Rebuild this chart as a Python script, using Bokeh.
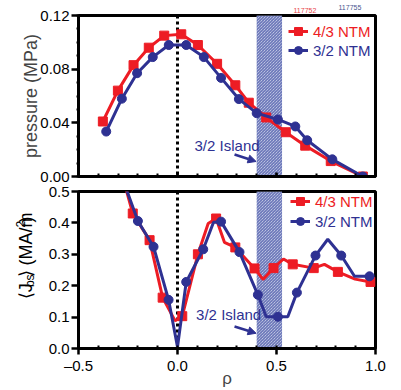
from bokeh.plotting import figure
from bokeh.models import (Range1d, SingleIntervalTicker, BoxAnnotation, Span, Label,
                          Arrow, NormalHead, Legend, LegendItem, NumeralTickFormatter,
                          CustomJSTickFormatter, Title)
from bokeh.layouts import column, row
from bokeh.embed import file_html
from bokeh.resources import INLINE

# ---- pressure profiles (MPa) ----
p43_rho = [-0.377, -0.301, -0.222, -0.145, -0.067, 0.019, 0.103, 0.200, 0.292,
           0.360, 0.448, 0.547, 0.645, 0.774, 0.936]
p43 = [0.041, 0.064, 0.083, 0.096, 0.105, 0.106, 0.098, 0.084, 0.068,
       0.055, 0.044, 0.033, 0.023, 0.0115, 0.000]

p32_rho = [-0.360, -0.281, -0.204, -0.125, -0.044, 0.044, 0.133, 0.220, 0.310,
           0.400, 0.507, 0.595, 0.655, 0.782, 0.936]
p32 = [0.0335, 0.058, 0.077, 0.089, 0.098, 0.098, 0.089, 0.0735, 0.0577,
       0.0472, 0.0425, 0.0373, 0.027, 0.0128, 0.000]

# ---- bootstrap current profiles (MA/m^2) ----
j43_rho = [-0.300, -0.226, -0.141, -0.075, -0.012, 0.024, 0.103, 0.155, 0.195,
           0.237, 0.292, 0.389, 0.432, 0.485, 0.535, 0.582, 0.688, 0.742,
           0.810, 0.897, 0.975]
j43 = [0.600, 0.430, 0.345, 0.162, 0.088, 0.103, 0.300, 0.398, 0.414,
       0.338, 0.322, 0.255, 0.220, 0.256, 0.285, 0.268, 0.256, 0.268,
       0.244, 0.221, 0.212]
j43_marks = [1, 2, 3, 5, 6, 8, 10, 11, 13, 15, 16, 18, 20]

j32_rho = [-0.300, -0.200, -0.121, -0.045, 0.000, 0.044, 0.130, 0.182, 0.220,
           0.313, 0.406, 0.448, 0.507, 0.557, 0.603, 0.697, 0.759, 0.827,
           0.894, 0.970]
j32 = [0.580, 0.406, 0.324, 0.155, 0.005, 0.212, 0.316, 0.402, 0.404,
       0.307, 0.171, 0.101, 0.101, 0.101, 0.178, 0.296, 0.348, 0.296,
       0.230, 0.230]
j32_marks = [1, 2, 3, 5, 6, 8, 9, 10, 12, 14, 15, 17, 19]

island = [0.40, 0.528]          # 3/2 island radial extent
shots = ["117752", "117755"]
series_names = ["4/3 NTM", "3/2 NTM"]

RED = "#ed1c24"
BLUE = "#2e3192"
FONT = "Liberation Sans"


def bare_figure(width, height, x_range, y_range):
    """A figure without axes or outline, used only to hold text."""
    p = figure(width=width, height=height, x_range=x_range, y_range=y_range,
               output_backend="svg", toolbar_location=None, min_border=0)
    p.axis.visible = False
    p.grid.visible = False
    p.outline_line_color = None
    p.background_fill_color = "white"
    p.border_fill_color = "white"
    return p


def base_figure(width, height, y_end, left, top, bottom):
    p = figure(width=width, height=height, x_range=Range1d(-0.5, 1.0),
               y_range=Range1d(0, y_end), output_backend="svg",
               toolbar_location=None, min_border_left=left, min_border_right=26,
               min_border_top=top, min_border_bottom=bottom)
    p.xgrid.visible = False
    p.ygrid.visible = False
    p.outline_line_color = "black"
    p.outline_line_width = 3
    p.outline_line_alpha = 1
    p.background_fill_color = "white"
    p.border_fill_color = "white"
    for ax in (p.xaxis[0], p.yaxis[0]):
        ax.axis_line_width = 3
        ax.major_tick_line_width = 2.5
        ax.minor_tick_line_width = 2
        ax.major_label_text_font = FONT
        ax.major_label_text_font_size = "15px"
        ax.major_label_text_color = "black"
    p.xaxis.ticker = SingleIntervalTicker(interval=0.5, num_minor_ticks=5)
    p.xaxis.minor_tick_in = 3
    p.xaxis.minor_tick_out = 0
    p.yaxis.major_tick_in = 0
    p.yaxis.major_tick_out = 7
    p.yaxis.major_label_standoff = 2
    # island band and magnetic axis
    p.add_layout(BoxAnnotation(left=island[0], right=island[1], fill_color="#e4e7f5",
                               fill_alpha=1, line_color=None,
                               hatch_pattern="left_diagonal_line", hatch_color="#3a4aa0",
                               hatch_scale=3, hatch_weight=0.9, level="underlay"))
    p.add_layout(Span(location=0, dimension="height", line_color="black",
                      line_width=3, line_dash="3 3", level="underlay"))
    return p


def add_legend(p, items, vx, vy_list):
    for (label, rends, color), vy in zip(items, vy_list):
        lg = Legend(items=[LegendItem(label=label, renderers=rends)],
                    location=(vx, vy), padding=0, margin=0, spacing=0,
                    border_line_color=None, background_fill_alpha=0,
                    glyph_width=20, glyph_height=20, label_height=20,
                    label_standoff=5, label_text_font=FONT,
                    label_text_font_size="15px", label_text_color=color)
        p.add_layout(lg)


def text_label(p, x, y, text, color="black", size="15px", align="left", angle=0):
    p.add_layout(Label(x=x, y=y, text=text, text_color=color, text_font=FONT,
                       text_font_size=size, text_baseline="middle",
                       text_align=align, angle=angle))


# ---------- pressure panel ----------
p1 = base_figure(401, 183, 0.12, 78, 15, 7)
p1.yaxis.ticker = SingleIntervalTicker(interval=0.04, num_minor_ticks=4)
p1.yaxis.formatter = NumeralTickFormatter(format="0.00")
p1.yaxis.minor_tick_in = 0
p1.yaxis.minor_tick_out = 2
p1.xaxis.major_tick_in = 4
p1.xaxis.major_tick_out = 0
p1.xaxis.major_label_standoff = 0
p1.xaxis.major_label_text_font_size = "0px"
p1.xaxis.formatter = CustomJSTickFormatter(code="return ''")
p1.yaxis.axis_label = "pressure (MPa)"
p1.yaxis.axis_label_text_font = FONT
p1.yaxis.axis_label_text_font_size = "18px"
p1.yaxis.axis_label_text_font_style = "normal"
p1.yaxis.axis_label_standoff = -4

# shot numbers sit in the top margin, side by side
p1.add_layout(Title(text=shots[0], align="left", offset=215, standoff=6,
                    text_font=FONT, text_font_size="7px", text_font_style="normal",
                    text_color="#e8474c"), "above")
p1.add_layout(Title(text=shots[1], align="left", offset=260, standoff=-14,
                    text_font=FONT, text_font_size="7px", text_font_style="normal",
                    text_color="#4a5590"), "above")

r1l = p1.line(p43_rho, p43, line_color=RED, line_width=3)
r1s = p1.scatter(p43_rho, p43, marker="square", size=9, color=RED)
b1l = p1.line(p32_rho, p32, line_color=BLUE, line_width=3)
b1s = p1.scatter(p32_rho, p32, marker="circle", size=9, color=BLUE)

text_label(p1, 0.086, 0.0231, "3/2 Island", BLUE)
p1.add_layout(Arrow(x_start=0.288, y_start=0.0164, x_end=0.397, y_end=0.0112,
                    line_color=BLUE, line_width=2.5,
                    end=NormalHead(size=8, fill_color=BLUE, line_color=BLUE)))
add_legend(p1, [(series_names[0], [r1l, r1s], RED),
                (series_names[1], [b1l, b1s], BLUE)], 210, [135, 116])

# ---------- bootstrap current panel ----------
p2 = base_figure(361, 207, 0.5, 38, 8, 37)
p2.yaxis.ticker = SingleIntervalTicker(interval=0.1, num_minor_ticks=0)
p2.yaxis.formatter = NumeralTickFormatter(format="0.0")
p2.yaxis.minor_tick_line_color = None
p2.xaxis.major_tick_in = 0
p2.xaxis.major_tick_out = 6
p2.xaxis.major_label_standoff = 2
p2.xaxis.formatter = CustomJSTickFormatter(
    code="return (tick < 0 ? '\u2013' : '') + Math.abs(tick).toFixed(1)")
p2.xaxis.axis_label = "\u03c1"
p2.xaxis.axis_label_text_font = FONT
p2.xaxis.axis_label_text_font_size = "17px"
p2.xaxis.axis_label_text_font_style = "normal"
p2.xaxis.axis_label_standoff = -8

r2l = p2.line(j43_rho, j43, line_color=RED, line_width=3)
r2s = p2.scatter([j43_rho[i] for i in j43_marks], [j43[i] for i in j43_marks],
                 marker="square", size=9, color=RED)
b2l = p2.line(j32_rho, j32, line_color=BLUE, line_width=3)
b2s = p2.scatter([j32_rho[i] for i in j32_marks], [j32[i] for i in j32_marks],
                 marker="circle", size=9, color=BLUE)

text_label(p2, 0.094, 0.107, "3/2 Island", BLUE)
p2.add_layout(Arrow(x_start=0.288, y_start=0.070, x_end=0.397, y_end=0.0485,
                    line_color=BLUE, line_width=2.5,
                    end=NormalHead(size=8, fill_color=BLUE, line_color=BLUE)))
add_legend(p2, [(series_names[0], [r2l, r2s], RED),
                (series_names[1], [b2l, b2s], BLUE)], 212, [137, 117])

# ---------- y-axis title <J_bs> (MA/m^2) in its own narrow column ----------
jcol = bare_figure(40, 207, Range1d(0, 40), Range1d(0, 207))
ylabel_parts = [
    ("\u27e8J", 25, 65.0, "18px"),
    ("bs", 29, 81.0, "12px"),
    ("\u27e9 (MA/m", 25, 93.7, "18px"),
    ("2", 20, 159.5, "12px"),
    (")", 25, 166.2, "18px"),
]
for txt, x, y, size in ylabel_parts:
    text_label(jcol, x, y, txt, "black", size, angle=1.5707963)

layout = column(p1, row(jcol, p2, spacing=0), spacing=0)
open("out.html", "w").write(file_html(layout, INLINE))
